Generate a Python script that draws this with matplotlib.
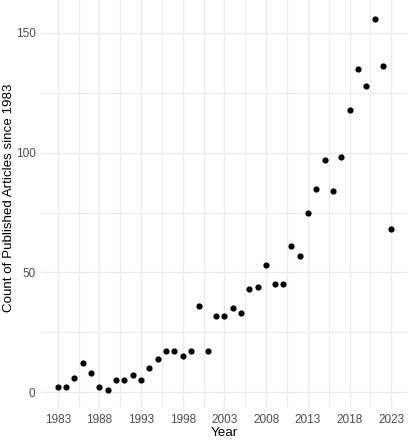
import numpy as np
import matplotlib
matplotlib.use("Agg")
import matplotlib.pyplot as plt

# articles per year
years = list(range(1983, 2024))
counts = [2, 2, 6, 12, 8, 2, 1, 5, 5, 7,
          5, 10, 14, 17, 17, 15, 17, 36, 17, 32,
          32, 35, 33, 43, 44, 53, 45, 45, 61, 57,
          75, 85, 97, 84, 98, 118, 135, 128, 156, 136,
          68]
x_ticks = list(range(1983, 2024, 5))
y_ticks = [0, 50, 100, 150]

plt.rcParams['font.family'] = ['Liberation Sans', 'DejaVu Sans']

fig = plt.figure(figsize=(4.1, 4.4), dpi=100)
ax = fig.add_axes([0.1, 0.072, 0.895, 0.928])

ax.scatter(years, counts, s=20, color='black', linewidths=0, zorder=3)

ax.set_xlim(1981, 2025)
ax.set_ylim(-6.75, 163.75)
ax.set_xticks(x_ticks)
ax.set_yticks(y_ticks)
ax.set_xticks([t + 2.5 for t in x_ticks[:-1]], minor=True)
ax.set_yticks([25, 75, 125], minor=True)

ax.grid(True, which='major', color='#ebebeb', linewidth=1.0)
ax.grid(True, which='minor', color='#ebebeb', linewidth=0.8)
ax.set_axisbelow(True)
for s in ax.spines.values():
    s.set_visible(False)
ax.tick_params(which='both', length=0)
ax.tick_params(axis='both', labelsize=8.5, labelcolor='#4d4d4d', pad=4)

ax.set_xlabel('Year', fontsize=9.6, labelpad=1)
ax.set_ylabel('Count of Published Articles since 1983', fontsize=9.6)
ax.yaxis.set_label_coords(-0.071, 0.515)

fig.savefig('out.png', dpi=100)
